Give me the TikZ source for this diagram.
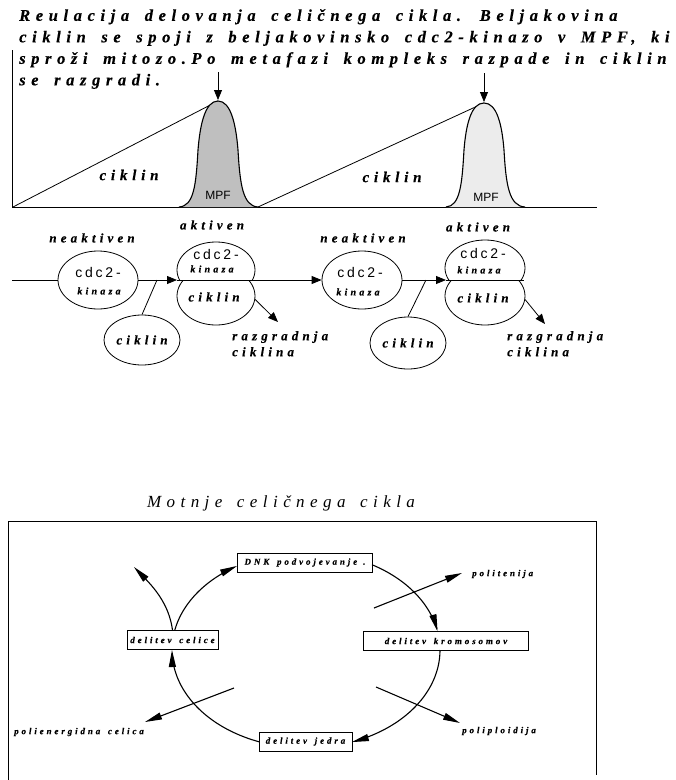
\documentclass[tikz,border=0pt]{standalone}
\usepackage{fontspec}
\setmainfont{Liberation Serif}
\newfontfamily\spT[LetterSpace=34, WordSpace=1.6, FakeBold=0.3]{Liberation Serif Bold Italic}
\newfontfamily\spM[LetterSpace=32, WordSpace=1.5, FakeBold=0.4]{Liberation Serif Bold Italic}
\newfontfamily\spI[LetterSpace=32, WordSpace=1.5]{Liberation Serif Italic}
\newfontfamily\spS[LetterSpace=20]{Liberation Sans}
\newfontfamily\plS{Liberation Sans}
\usetikzlibrary{arrows.meta,shapes.geometric,calc}
\begin{document}
\begin{tikzpicture}[x=1pt,y=-1pt,
  ln/.style={line width=0.8pt},
  tri/.style={-{Triangle[length=10pt,width=8pt]}, line width=0.8pt},
  ltri/.style={-{Triangle[length=17pt,width=7pt]}, line width=1.1pt},
  oval/.style={draw, ellipse, line width=0.8pt, inner sep=0},
  lbl/.style={font=\spM\fontsize{13}{15}\selectfont, inner sep=0},
  kin/.style={font=\spM\fontsize{10}{11}\selectfont, inner sep=0},
  cdc/.style={font=\spS\fontsize{14}{15}\selectfont, inner sep=0},
  mpf/.style={font=\plS\fontsize{12}{13}\selectfont, inner sep=0},
  bx/.style={draw, line width=0.9pt, minimum height=19, inner sep=0, font=\spM\fontsize{9}{10}\selectfont},
  bl/.style={font=\spM\fontsize{9}{10}\selectfont, inner sep=0}
]
\useasboundingbox (0,0) rectangle (676,780);

% ---------- header text
\node[anchor=north west, align=left, inner sep=0,
  font=\spT\fontsize{16.5}{21.5}\selectfont] (hdr) at (19,9)
 {Reulacija delovanja celičnega cikla. Beljakovina\\
  ciklin se spoji z beljakovinsko cdc2-kinazo v MPF, ki\\
  sproži mitozo.Po metafazi kompleks razpade in ciklin\\
  se razgradi.};

% ---------- graph
\coordinate (ytop) at (12,50);
\coordinate (orig) at (12,207);
\coordinate (xend) at (597,207);
\draw[line width=0.9pt] (ytop) -- (orig) -- (xend);
\coordinate (pk1) at (218,101);
\coordinate (pk2) at (484,103);
\draw[ln] (13,207) -- (pk1);
\draw[ln] (258,207) -- (pk2);
\draw[line width=1.1pt, fill=gray!50] (179,207) .. controls (194,206) and (196,185) .. (198,150)
   .. controls (200,125) and (205,101) .. (pk1)
   .. controls (231,101) and (236,125) .. (238,150)
   .. controls (240,185) and (243,206) .. (258,207);
\draw[line width=1.1pt, fill=gray!15] (446,207) .. controls (460,206) and (462,185) .. (464,150)
   .. controls (466,125) and (471,103) .. (pk2)
   .. controls (497,103) and (502,125) .. (504,150)
   .. controls (506,185) and (509,206) .. (525,207);
\coordinate (ar1) at (218,72);
\coordinate (ar2) at (484,73);
\draw[tri] (ar1) -- ($(pk1)+(0,-1)$);
\draw[tri] (ar2) -- ($(pk2)+(0,-1)$);
\node[lbl, font=\spM\fontsize{15}{16}\selectfont] (cik1) at (129,175) {ciklin};
\node[lbl, font=\spM\fontsize{15}{16}\selectfont] (cik2) at (392,177) {ciklin};
\node[mpf] (mpf1) at (218,195) {MPF};
\node[mpf] (mpf2) at (486,197) {MPF};

% ---------- second row
\coordinate (s0) at (12,280);
\node[oval, minimum width=80, minimum height=58] (e1) at (98,280) {};
\node[cdc] at (98,272) {cdc2-};
\node[kin] at (99,291) {kinaza};
\node[lbl] (na1) at (92,238) {neaktiven};
\draw[ln] (s0) -- (e1.west);

\begin{scope}
 \clip (170,230) rectangle (262,280);
 \node[oval, minimum width=78, minimum height=56] (a1t) at (216,270) {};
\end{scope}
\begin{scope}
 \clip (170,280) rectangle (262,335);
 \node[oval, minimum width=78, minimum height=58] (a1b) at (216,296) {};
\end{scope}
\coordinate (a1w) at (177,280);
\coordinate (a1e) at (255,280);
\draw[ln] (a1w) -- (a1e);
\node[lbl] (ak1) at (212,225) {aktiven};
\node[cdc] at (216,254) {cdc2-};
\node[kin] at (212,269) {kinaza};
\node[lbl] at (214,297) {ciklin};
\draw[tri] (e1.east) -- (a1w);

\node[oval, minimum width=76, minimum height=50] (c1) at (142,340) {};
\node[lbl] at (142,340) {ciklin};
\coordinate (j1) at (157,280);
\draw[ln] (j1) -- (c1.north);

\coordinate (d1) at (278,322);
\draw[tri] (a1b.-5) -- (d1);
\node[lbl, anchor=north west, align=left, font=\spM\fontsize{13}{16}\selectfont] (rz1) at (232,331) {razgradnja\\ciklina};

\node[oval, minimum width=80, minimum height=58] (e2) at (362,280) {};
\node[cdc] at (360,272) {cdc2-};
\node[kin] at (358,292) {kinaza};
\node[lbl] (na2) at (363,238) {neaktiven};
\draw[tri] (a1e) -- (e2.west);

\begin{scope}
 \clip (438,230) rectangle (530,280);
 \node[oval, minimum width=80, minimum height=56] (a2t) at (485,268) {};
\end{scope}
\begin{scope}
 \clip (438,280) rectangle (530,335);
 \node[oval, minimum width=80, minimum height=58] (a2b) at (485,296) {};
\end{scope}
\coordinate (a2w) at (446,280);
\coordinate (a2e) at (524,280);
\draw[ln] (a2w) -- (a2e);
\node[lbl] (ak2) at (478,227) {aktiven};
\node[cdc] at (483,253) {cdc2-};
\node[kin] at (479,270) {kinaza};
\node[lbl] at (483,298) {ciklin};
\draw[tri] (e2.east) -- (a2w);

\node[oval, minimum width=76, minimum height=52] (c2) at (408,343) {};
\node[lbl] at (408,343) {ciklin};
\coordinate (j2) at (426,280);
\draw[ln] (j2) -- (c2.north);

\coordinate (d2) at (545,324);
\draw[tri] (a2b.-5) -- (d2);
\node[lbl, anchor=north west, align=left, font=\spM\fontsize{13}{16}\selectfont] (rz2) at (507,331) {razgradnja\\ciklina};

% ---------- bottom panel
\node[font=\spI\fontsize{17}{18}\selectfont, inner sep=0] (ttl) at (281,503) {Motnje celičnega cikla};
\draw[line width=1pt] (8,780) -- (8,521) -- (596,521) -- (596,775);

\node[bx, minimum width=135] (dnk) at (305,562.5) {DNK podvojevanje\hspace{6pt}.};
\node[bx, minimum width=165] (kro) at (446,641) {delitev kromosomov};
\node[bx, minimum width=91] (cel) at (172.5,640) {delitev celice};
\node[bx, minimum width=93] (jed) at (305.5,741.5) {delitev jedra};

\draw[ltri] plot[domain=-60.5:-11, samples=40, variable=\t] ({306+134*cos(\t)},{650+98*sin(\t)});
\draw[ltri] plot[domain=0:70, samples=40, variable=\t] ({306+134*cos(\t)},{650+98*sin(\t)});
\draw[ltri] plot[domain=110.5:180, samples=40, variable=\t] ({306+134*cos(\t)},{650+98*sin(\t)});
\draw[ltri] plot[domain=191.5:239, samples=40, variable=\t] ({306+134*cos(\t)},{650+98*sin(\t)});

\coordinate (bt) at (134,567);
\draw[ltri] (cel.north) .. controls (170,612) and (162,596) .. (bt);

\coordinate (p1s) at (374,608);
\coordinate (p1e) at (462,573);
\draw[ltri] (p1s) -- (p1e);
\node[bl, anchor=west] (pol) at (472,574) {politenija};

\coordinate (p2s) at (376,687);
\coordinate (p2e) at (460,723);
\draw[ltri] (p2s) -- (p2e);
\node[bl, anchor=west] (plp) at (462,731) {poliploidija};

\coordinate (p3s) at (234,688);
\coordinate (p3e) at (145,722);
\draw[ltri] (p3s) -- (p3e);
\node[bl, anchor=west] (ple) at (14,732) {polienergidna celica};
\end{tikzpicture}
\end{document}
